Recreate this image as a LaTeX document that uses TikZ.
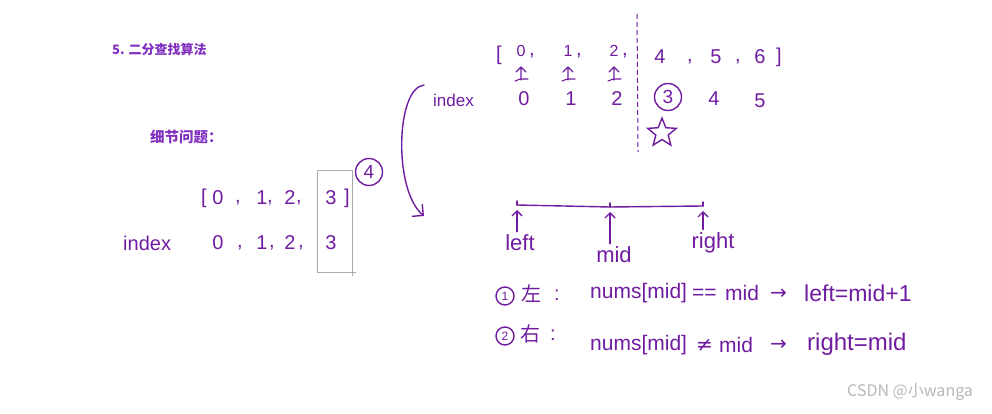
\documentclass[tikz,border=0pt]{standalone}
\usepackage{fontspec}
\setmainfont{Liberation Sans}
\newfontfamily\cjk{Noto Sans CJK SC}
\newfontfamily\symf{DejaVu Sans}
\usetikzlibrary{arrows.meta,positioning,calc,shapes.geometric}
\definecolor{ink}{RGB}{112,28,160}
\definecolor{titleink}{RGB}{128,48,190}
\definecolor{boxgray}{RGB}{170,170,170}

\tikzset{
  hw/.style={text=ink, font=\fontsize{20}{20}\selectfont, inner sep=0pt},
  big/.style={hw, font=\fontsize{21}{21}\selectfont},
  pen/.style={draw=ink, line width=1.4pt, line cap=round, line join=round},
  ring/.style={circle, draw=ink, line width=1.4pt, minimum size=27pt, inner sep=0pt,
    text=ink, font=\fontsize{19}{19}\selectfont},
  smallring/.style={ring, minimum size=18pt, font=\fontsize{12}{12}\selectfont},
  ttl/.style={text=titleink, font=\cjk\bfseries\fontsize{13}{13}\selectfont, anchor=west, inner sep=0pt},
  upbarb/.style={pen, -{Straight Barb[length=5pt,width=10pt]}, shorten <=3pt, shorten >=5pt}
}

\begin{document}
\begin{tikzpicture}[x=1pt,y=-1pt]
\useasboundingbox (0,0) rectangle (992,414);

% titles
\node[ttl] (title) at (112,50) {5. 二分查找算法};
\node[ttl, font=\cjk\bfseries\fontsize{14.5}{14.5}\selectfont] (detail) at (150,137) {细节问题：};

% left array and its indices
\node[hw] (lbr) at (204,198) {[};
\foreach \v/\x in {0/218,1/262,2/290,3/331}{
  \node[hw] (a\v) at (\x,198) {\v};
  \node[hw] (i\v) at (\x,243) {\v};
}
\foreach \x in {238,270,299}{
  \node[hw] at (\x,203) {,};
  \node[hw] at (\x+2,248) {,};
}
\node[hw] (rbr) at (347,198) {]};
\node[hw, anchor=west] (idxl) at (123,243) {index};
\draw[boxgray] (317,170) rectangle (352,272);
\draw[boxgray] (348,272) -- (356,272) (352,268) -- (352,276);
\node[ring] (four) at (369,172) {4};

% right array, split at the dashed line
\node[hw] (rlb) at (499,55) {[};
\foreach \v/\x in {0/521,1/568,2/614}{
  \node[hw, font=\fontsize{16}{16}\selectfont] (b\v) at (\x,51) {\v};
  \node[hw] at (\x+11,56) {,};
  % up-arrow over a bar under each of 0, 1, 2
  \draw[pen, line width=1.1pt] (\x-5,72) -- (\x,67) -- (\x+5,72) (\x,67) -- (\x,80)
    (\x-6,81) .. controls (\x-2,79) .. (\x+7,79);
  \node[hw] (j\v) at (\x+3,99) {\v};
}
\foreach \v/\x in {4/660,5/716,6/760}{
  \node[hw] (b\v) at (\x,57) {\v};
}
\node[hw] at (690,62) {,};
\node[hw] at (738,62) {,};
\node[hw] (rrb) at (779,57) {]};
\node[hw, anchor=west, font=\fontsize{17}{17}\selectfont] (idxr) at (433,100) {index};
\node[ring] (j3) at (668,97) {3};
\node[hw] (j4) at (714,99) {4};
\node[hw] (j5) at (760,101) {5};
\node[star, star points=5, star point ratio=2.3, draw=ink, line width=1.4pt,
  minimum size=30pt, inner sep=0pt] (star) at (662,133) {};
\coordinate (dtop) at (637,14);
\coordinate (dbot) at (638,152);
\draw[ink, line width=1pt, dash pattern=on 5pt off 3pt] (dtop) -- (dbot);

% curved jump from the index row down to the segment
\coordinate (jmpA) at (424,85);
\coordinate (jmpB) at (424,216);
\draw[pen, -{Straight Barb[length=8pt,width=16pt]}] (jmpA) .. controls (396,88) and (393,190) .. (jmpB);

% the search range
\coordinate (segL) at (517,205);
\coordinate (segM) at (610,207);
\coordinate (segR) at (703,206);
\draw[pen] (segL) -- (segM) -- (segR);
\draw[pen] (segL) -- ++(0,-4) (segM) -- ++(0,-4) (segR) -- ++(0,-4);
\node[big, font=\fontsize{22}{22}\selectfont] (lft) at (520,243) {left};
\node[big, font=\fontsize{22}{22}\selectfont] (mid) at (614,255) {mid};
\node[big, font=\fontsize{22}{22}\selectfont] (rgt) at (713,243) {right};
\draw[upbarb] (lft.north -| segL) -- (segL);
\draw[upbarb] (mid.north -| segM) -- (segM);
\draw[upbarb] (rgt.north -| segR) -- (segR);

% the two cases
\node[smallring] (c1) at (505,296) {1};
\node[hw, font=\cjk\fontsize{20}{20}\selectfont] (zuo) at (531,294) {左};
\node[hw] (col1) at (557,295) {:};
\node[big, anchor=west] (r1a) at (590,293) {nums[mid]};
\node[big, anchor=west] (r1b) at (692,294) {==};
\node[big, anchor=west] (r1c) at (725,293) {mid};
\node[big, anchor=west, font=\symf\fontsize{20}{20}\selectfont] (r1d) at (770,294) {→};
\node[big, anchor=west, font=\fontsize{23}{23}\selectfont] (r1e) at (804,293) {left=mid+1};

\node[smallring] (c2) at (505,336) {2};
\node[hw, font=\cjk\fontsize{20}{20}\selectfont] (you) at (530,334) {右};
\node[hw] (col2) at (553,335) {:};
\node[big, anchor=west] (r2a) at (590,345) {nums[mid]};
\node[big, anchor=west, font=\symf\fontsize{20}{20}\selectfont] (r2b) at (696,345) {≠};
\node[big, anchor=west] (r2c) at (719,345) {mid};
\node[big, anchor=west, font=\symf\fontsize{20}{20}\selectfont] (r2d) at (770,345) {→};
\node[big, anchor=west, font=\fontsize{24}{24}\selectfont] (r2e) at (807,344) {right=mid};

% watermark
\node[text=boxgray!85, font=\cjk\fontsize{16}{16}\selectfont, anchor=west, inner sep=0pt] (mark) at (847,392) {CSDN @小wanga};
\end{tikzpicture}
\end{document}
